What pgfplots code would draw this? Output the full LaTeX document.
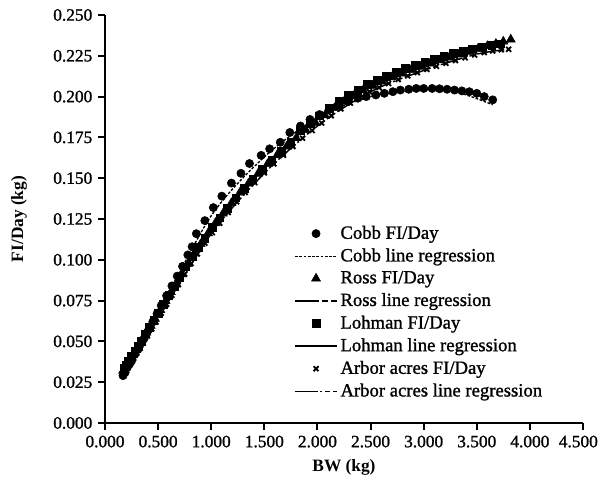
\documentclass[border=0pt]{standalone}
\usepackage{fontspec}
\setmainfont{Liberation Serif}[UprightFeatures={FakeBold=1.2}]
\usepackage{pgfplots}
\pgfplotsset{compat=1.18}
\pgfplotsset{
  markleg/.style={legend image code/.code={\draw[##1] plot coordinates {(15.75pt,0pt)};}},
  lineleg/.style={legend image code/.code={\draw[##1] (0pt,0pt) -- (31.5pt,0pt);}},
}
\begin{document}
\fontsize{13pt}{15pt}\selectfont
\begin{tikzpicture}
\path[use as bounding box] (-78.75pt,-49.5pt) rectangle (372.75pt,317.25pt);
\begin{axis}[
  scale only axis, width=358.5pt, height=306pt,
  xmin=0, xmax=4.5, ymin=0, ymax=0.25,
  axis x line*=bottom, axis y line*=left,
  axis line style={line width=1.5pt, black},
  xtick pos=bottom, ytick pos=left,
  tick align=outside, major tick length=5pt,
  tick style={line width=1.5pt, black},
  xtick={0,0.5,1,1.5,2,2.5,3,3.5,4},
  xticklabels={0.000,0.500,1.000,1.500,2.000,2.500,3.000,3.500,4.000},
  extra x ticks={4.5}, extra x tick labels={4.500},
  extra x tick style={tick label style={xshift=-3.5pt}},
  ytick={0,0.025,0.05,0.075,0.1,0.125,0.15,0.175,0.2,0.225,0.25},
  yticklabels={0.000,0.025,0.050,0.075,0.100,0.125,0.150,0.175,0.200,0.225,0.250},
  tick label style={font=\fontsize{13pt}{15pt}\selectfont},
  xlabel={\bfseries BW (kg)}, ylabel={\bfseries FI/Day (kg)},
  label style={font=\fontsize{13pt}{15pt}\selectfont},
  xlabel style={at={(axis description cs:0.5,-0.11)}, anchor=center},
  ylabel style={at={(axis description cs:-0.18,0.5)}, anchor=center},
  legend style={draw=none, fill=none, at={(axis description cs:0.387,0.497)}, anchor=north west,
    font=\fontsize{14pt}{16pt}\selectfont, row sep=1.3pt},
  legend cell align=left,
  clip=false,
]
% Cobb
\addplot[only marks, mark=*, mark size=3.1pt, black, markleg] table {
x y
0.17 0.029
0.19 0.031
0.21 0.034
0.23 0.036
0.25 0.038
0.28 0.042
0.31 0.045
0.34 0.049
0.37 0.052
0.41 0.057
0.45 0.062
0.49 0.067
0.53 0.072
0.58 0.078
0.63 0.084
0.68 0.090
0.73 0.096
0.78 0.103
0.82 0.108
0.86 0.116
0.94 0.124
1.02 0.132
1.10 0.139
1.19 0.147
1.28 0.153
1.36 0.159
1.47 0.164
1.55 0.168
1.65 0.172
1.74 0.178
1.84 0.182
1.93 0.186
2.02 0.189
2.11 0.192
2.20 0.195
2.29 0.197
2.38 0.199
2.46 0.200
2.55 0.201
2.63 0.202
2.71 0.203
2.78 0.204
2.86 0.2045
2.93 0.205
3.00 0.205
3.08 0.205
3.15 0.2048
3.22 0.2045
3.29 0.204
3.36 0.2035
3.43 0.203
3.50 0.202
3.57 0.200
3.65 0.198
};
\addlegendentry{Cobb FI/Day}
\addplot[smooth, black, line width=1pt, dash pattern=on 2pt off 1.2pt, lineleg] coordinates {
(0.17,0.030) (0.5,0.067) (1.0,0.127) (1.5,0.163) (2.0,0.187) (2.5,0.200) (3.0,0.204) (3.3,0.203) (3.65,0.195)};
\addlegendentry{Cobb line regression}
% Ross
\addplot[only marks, mark=triangle*, mark size=3.9pt, black, markleg] table {
x y
0.17 0.0320
0.19 0.0341
0.21 0.0363
0.23 0.0384
0.26 0.0416
0.29 0.0448
0.32 0.0479
0.35 0.0511
0.39 0.0554
0.43 0.0596
0.47 0.0639
0.52 0.0693
0.57 0.0747
0.62 0.0802
0.67 0.0856
0.72 0.0911
0.78 0.0976
0.84 0.1039
0.90 0.1096
0.97 0.1163
1.04 0.1226
1.11 0.1283
1.19 0.1348
1.27 0.1412
1.35 0.1467
1.44 0.1527
1.53 0.1587
1.62 0.1641
1.71 0.1694
1.80 0.1747
1.89 0.1795
1.98 0.1840
2.07 0.1885
2.16 0.1930
2.25 0.1969
2.34 0.2003
2.43 0.2039
2.52 0.2067
2.61 0.2092
2.70 0.2118
2.79 0.2142
2.88 0.2163
2.97 0.2183
3.06 0.2203
3.15 0.2222
3.24 0.2240
3.33 0.2258
3.42 0.2275
3.51 0.2292
3.60 0.2310
3.68 0.2324
3.75 0.2337
3.82 0.2350
};
\addlegendentry{Ross FI/Day}
\addplot[smooth, black, line width=1.1pt, dash pattern=on 18pt off 2pt on 5pt off 2pt, lineleg] coordinates {
(0.17,0.032) (0.5,0.067) (1.0,0.119) (1.5,0.157) (2.0,0.186) (2.5,0.206) (3.0,0.219) (3.5,0.229) (3.82,0.234)};
\addlegendentry{Ross line regression}
% Lohman
\addplot[only marks, mark=square*, mark size=2.9pt, black, markleg] table {
x y
0.18 0.0335
0.20 0.0355
0.22 0.0377
0.25 0.0408
0.28 0.0440
0.31 0.0472
0.34 0.0503
0.38 0.0546
0.42 0.0588
0.46 0.0631
0.50 0.0674
0.55 0.0728
0.60 0.0783
0.65 0.0837
0.70 0.0891
0.76 0.0957
0.82 0.1020
0.88 0.1077
0.94 0.1134
1.01 0.1200
1.08 0.1258
1.15 0.1316
1.23 0.1380
1.31 0.1440
1.39 0.1494
1.48 0.1554
1.57 0.1612
1.66 0.1665
1.75 0.1718
1.84 0.1790
1.93 0.1837
2.02 0.1882
2.11 0.1927
2.20 0.1970
2.29 0.2006
2.38 0.2040
2.47 0.2075
2.56 0.2100
2.65 0.2125
2.74 0.2150
2.83 0.2172
2.92 0.2192
3.01 0.2212
3.10 0.2230
3.19 0.2248
3.28 0.2265
3.37 0.2280
3.46 0.2293
3.55 0.2305
3.64 0.2315
3.72 0.2323
};
\addlegendentry{Lohman FI/Day}
\addplot[smooth, black, line width=1.2pt, lineleg] coordinates {
(0.18,0.033) (0.5,0.067) (1.0,0.119) (1.5,0.157) (2.0,0.187) (2.5,0.208) (3.0,0.221) (3.4,0.228) (3.72,0.232)};
\addlegendentry{Lohman line regression}
% Arbor acres
\addplot[only marks, mark=x, mark size=2.6pt, mark options={line width=1.4pt}, black, markleg] table {
x y
0.17 0.030
0.19 0.032
0.21 0.034
0.24 0.0365
0.27 0.0397
0.30 0.0428
0.33 0.0460
0.36 0.0491
0.40 0.0534
0.44 0.0576
0.48 0.0619
0.53 0.0673
0.58 0.0727
0.63 0.0782
0.69 0.0847
0.75 0.0912
0.81 0.0977
0.87 0.1036
0.94 0.1102
1.01 0.1166
1.08 0.1224
1.16 0.1290
1.24 0.1355
1.32 0.1413
1.41 0.1473
1.50 0.1533
1.59 0.1588
1.68 0.1641
1.77 0.1694
1.86 0.1745
1.95 0.1792
2.04 0.1838
2.13 0.1883
2.22 0.1925
2.31 0.1960
2.40 0.1995
2.49 0.2030
2.58 0.2055
2.67 0.2080
2.76 0.2105
2.85 0.2127
2.94 0.2147
3.03 0.2167
3.12 0.2186
3.21 0.2204
3.30 0.2221
3.39 0.2238
3.48 0.2255
3.57 0.2270
3.65 0.2280
3.73 0.2287
3.80 0.2290
};
\addlegendentry{Arbor acres FI/Day}
\addplot[smooth, black, line width=1.1pt, dash pattern=on 17pt off 2pt on 1.5pt off 2pt on 4pt off 2pt, lineleg] coordinates {
(0.17,0.030) (0.5,0.064) (1.0,0.116) (1.5,0.153) (2.0,0.182) (2.5,0.203) (3.0,0.216) (3.5,0.226) (3.80,0.229)};
\addlegendentry{Arbor acres line regression}
\end{axis}
\end{tikzpicture}
\end{document}
